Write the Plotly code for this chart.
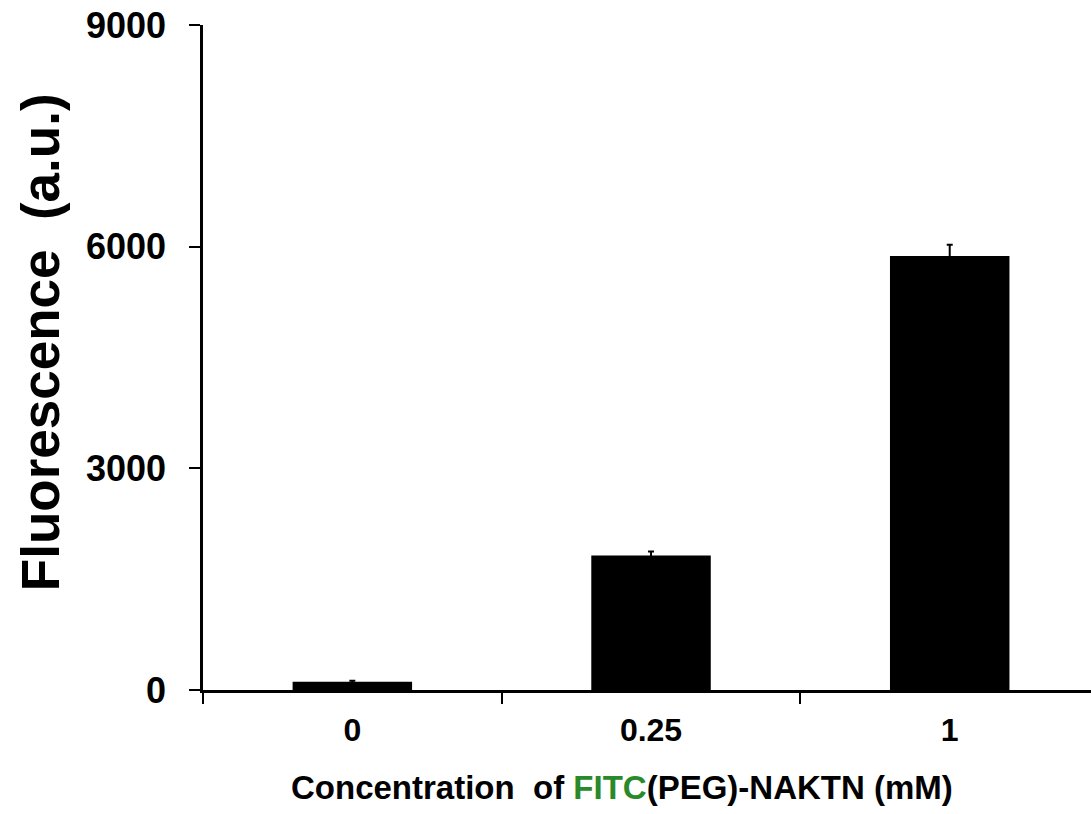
import plotly.graph_objects as go

# Fluorescence readings per concentration
concentrations = ["0", "0.25", "1"]
fluorescence = [110, 1820, 5875]
fluorescence_err = [15, 55, 150]

y_ticks = [0, 3000, 6000, 9000]

AX_FONT = "Liberation Sans, Arial, sans-serif"

fig = go.Figure()
fig.add_trace(go.Bar(
    x=concentrations,
    y=fluorescence,
    width=0.4,
    marker=dict(color="black", line=dict(width=0)),
    error_y=dict(type="data", array=fluorescence_err, visible=True,
                 color="black", thickness=2, width=3),
))

fig.update_layout(
    width=1091, height=814,
    margin=dict(l=203, r=0, t=25, b=124),
    paper_bgcolor="white", plot_bgcolor="white",
    showlegend=False,
    xaxis=dict(
        type="category",
        range=[-0.5, 2.473],
        showline=True, linecolor="black", linewidth=2.5,
        ticks="outside", tickson="boundaries", ticklen=11, tickwidth=2, tickcolor="black",
        ticklabelstandoff=10,
        tickfont=dict(family=AX_FONT, size=32, color="black", weight="bold"),
        showgrid=False, zeroline=False,
    ),
    yaxis=dict(
        range=[0, 9000],
        tickvals=y_ticks,
        ticktext=[str(v) for v in y_ticks],
        showline=True, linecolor="black", linewidth=2.5,
        ticks="outside", ticklen=11, tickwidth=2, tickcolor="black",
        ticklabelstandoff=16,
        tickfont=dict(family=AX_FONT, size=36, color="black", weight="bold"),
        showgrid=False, zeroline=False,
    ),
    annotations=[
        dict(
            text="Fluorescence  (a.u.)",
            xref="paper", yref="paper", x=0, y=0.523,
            xshift=-163, xanchor="center", yanchor="middle",
            textangle=-90, showarrow=False,
            font=dict(family=AX_FONT, size=53, color="black", weight="bold"),
        ),
        dict(
            text="Concentration  of <span style='color:#2a8a2a'>FITC</span>(PEG)-NAKTN (mM)",
            xref="paper", yref="paper", x=0.472, y=-0.147,
            xanchor="center", yanchor="middle", showarrow=False,
            font=dict(family=AX_FONT, size=33, color="black", weight="bold"),
        ),
    ],
)

fig.write_html("out.html")
